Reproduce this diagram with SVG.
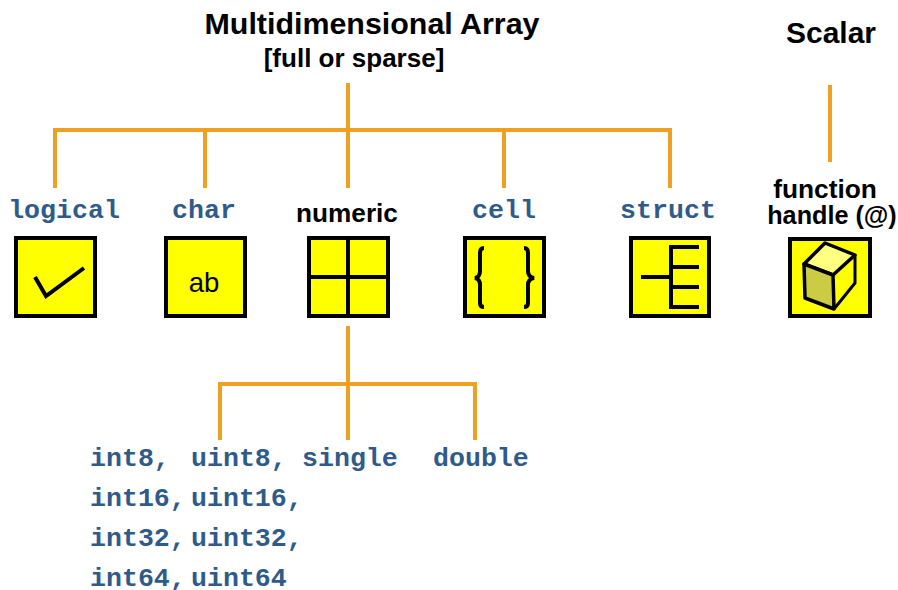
<svg xmlns="http://www.w3.org/2000/svg" width="898" height="590" viewBox="0 0 898 590">
<style>
.c{fill:none;stroke:#f0a020;stroke-width:4}
.b{fill:#ffff00;stroke:#000;stroke-width:4}
.i{fill:none;stroke:#000;stroke-width:4}
.m{font-family:"Liberation Mono",monospace;font-weight:700;font-size:26.6px;fill:#2f5b8a}
.s{font-family:"Liberation Sans",Arial,sans-serif;font-weight:700;fill:#000}
</style>
<rect width="898" height="590" fill="#fff"/>
<g id="connectors">
<path class="c" d="M348 83V188M55 188V130H670V188M205 130V188M504 130V188M830 85V162M348 326V440M220 440V384H475V440"/>
</g>
<g id="title"><text class="s" x="372" y="34" font-size="30.400" text-anchor="middle">Multidimensional Array</text>
<text class="s" x="354" y="67" font-size="26" text-anchor="middle">[full or sparse]</text></g>
<g id="scalar"><text class="s" x="831" y="43" font-size="30" text-anchor="middle">Scalar</text></g>
<g id="logical"><text class="m" x="64" y="218" text-anchor="middle">logical</text>
<rect class="b" x="16" y="238" width="79" height="78"/>
<path class="i" d="M35 277L46 296L84 268"/></g>
<g id="char"><text class="m" x="204" y="218" text-anchor="middle">char</text>
<rect class="b" x="166" y="238" width="79" height="78"/>
<text x="204" y="292" font-family="Liberation Sans,Arial,sans-serif" font-size="27.500" text-anchor="middle">ab</text></g>
<g id="numeric"><text class="s" x="347" y="222" font-size="26.200" text-anchor="middle">numeric</text>
<rect class="b" x="309" y="238" width="79" height="78"/>
<path class="i" d="M348 238V316M309 277H388"/></g>
<g id="cell"><text class="m" x="504" y="218" text-anchor="middle">cell</text>
<rect class="b" x="465" y="238" width="79" height="78"/>
<path class="i" d="M484 248Q480 248 480 253V271Q480 277 475 278Q480 279 480 285V303Q480 307 484 307M524 248Q528 248 528 253V271Q528 277 534 278Q528 279 528 285V303Q528 307 524 307"/></g>
<g id="struct"><text class="m" x="668" y="218" text-anchor="middle">struct</text>
<rect class="b" x="631" y="238" width="78" height="78"/>
<path class="i" d="M641 277H670M699 247H671V307H699M671 267H699M671 287H699"/></g>
<g id="function-handle"><text class="s" x="825" y="198" font-size="26.300" text-anchor="middle">function</text>
<text class="s" x="832" y="224" font-size="25.200" text-anchor="middle">handle (@)</text>
<rect class="b" x="790" y="239" width="80" height="77"/>
<path d="M804 264L825 243L855 255L833 275Z" fill="#ffff80" stroke="#000" stroke-width="3.500" stroke-linejoin="round"/>
<path d="M804 264L833 275L834 309L805 298Z" fill="#cccc44" stroke="#000" stroke-width="3.500" stroke-linejoin="round"/>
<path d="M855 255V283L834 309" fill="none" stroke="#000" stroke-width="3" stroke-linejoin="round"/></g>
<g id="numeric-types">
<text class="m" x="90" y="466">int8,</text><text class="m" x="191" y="466">uint8,</text><text class="m" x="302" y="466">single</text><text class="m" x="433" y="466">double</text>
<text class="m" x="90" y="506">int16,</text><text class="m" x="191" y="506">uint16,</text>
<text class="m" x="90" y="546">int32,</text><text class="m" x="191" y="546">uint32,</text>
<text class="m" x="90" y="586">int64,</text><text class="m" x="191" y="586">uint64</text>
</g>
</svg>
